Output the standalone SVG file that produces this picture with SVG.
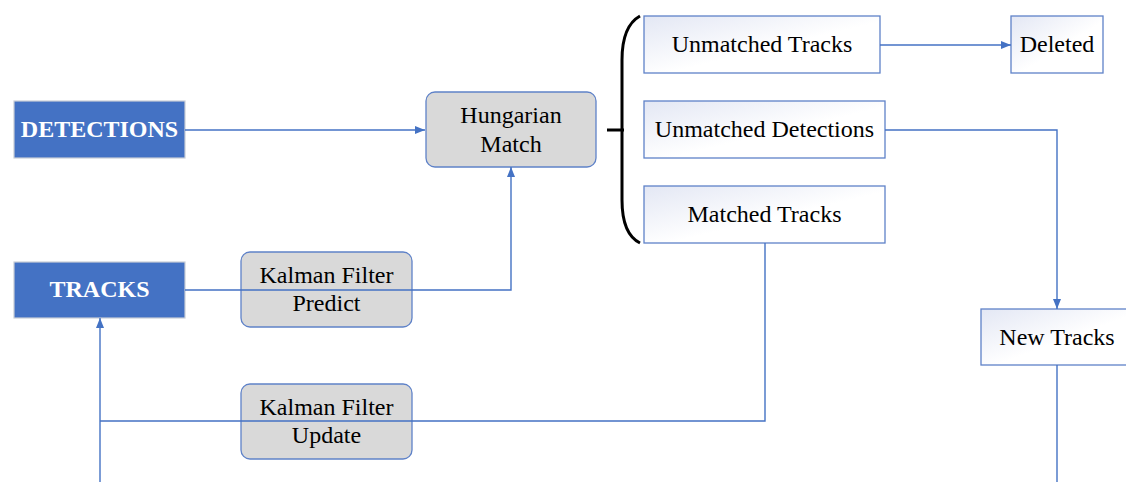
<svg xmlns="http://www.w3.org/2000/svg" width="1126" height="482" viewBox="0 0 1126 482">
<defs>
<linearGradient id="g" x1="0" y1="0" x2="1" y2="1">
<stop offset="0" stop-color="#e3e7f4"/>
<stop offset="0.55" stop-color="#ffffff"/>
<stop offset="1" stop-color="#ffffff"/>
</linearGradient>
<marker id="ah" viewBox="0 0 10 8" refX="10" refY="4" markerWidth="10" markerHeight="8" markerUnits="userSpaceOnUse" orient="auto">
<path d="M0,0 L10,4 L0,8 Z" fill="#4472C4"/>
</marker>
<style>
.blue{fill:#4472C4;stroke:#c9cdd6;stroke-width:1.2}
.grey{fill:#d9d9d9;stroke:#5f82c8;stroke-width:1.3}
.wb{fill:url(#g);stroke:#5f82c8;stroke-width:1.3}
.t{font-family:"Liberation Serif","Times New Roman",serif;font-size:24px;fill:#000;text-anchor:middle}
.tb{font-family:"Liberation Serif","Times New Roman",serif;font-size:24px;font-weight:bold;fill:#fff;text-anchor:middle}
.c{fill:none;stroke:#4472C4;stroke-width:1.4}
</style>
</defs>
<rect width="1126" height="482" fill="#fff"/>
<g id="detections">
<rect class="blue" x="14" y="101" width="171" height="57"/>
<text class="tb" x="99.5" y="137">DETECTIONS</text>
</g>
<g id="tracks">
<rect class="blue" x="14" y="262" width="171" height="56"/>
<text class="tb" x="99.5" y="297">TRACKS</text>
</g>
<g id="hungarian">
<rect class="grey" x="426" y="92" width="170" height="75" rx="9"/>
<text class="t" x="511" y="123">Hungarian</text>
<text class="t" x="511" y="152">Match</text>
</g>
<g id="kf-predict">
<rect class="grey" x="241" y="252" width="171" height="75" rx="9"/>
<text class="t" x="326.5" y="283">Kalman Filter</text>
<text class="t" x="326.5" y="311">Predict</text>
</g>
<g id="kf-update">
<rect class="grey" x="241" y="384" width="171" height="75" rx="9"/>
<text class="t" x="326.5" y="415">Kalman Filter</text>
<text class="t" x="326.5" y="443">Update</text>
</g>
<g id="unmatched-tracks">
<rect class="wb" x="644" y="16" width="236" height="57"/>
<text class="t" x="762" y="52">Unmatched Tracks</text>
</g>
<g id="deleted">
<rect class="wb" x="1011" y="16" width="92" height="57"/>
<text class="t" x="1057" y="52">Deleted</text>
</g>
<g id="unmatched-detections">
<rect class="wb" x="644" y="101" width="241" height="57"/>
<text class="t" x="764.5" y="137">Unmatched Detections</text>
</g>
<g id="matched-tracks">
<rect class="wb" x="644" y="186" width="241" height="57"/>
<text class="t" x="764.5" y="222">Matched Tracks</text>
</g>
<g id="new-tracks">
<rect class="wb" x="981" y="309" width="152" height="56"/>
<text class="t" x="1057" y="345">New Tracks</text>
</g>
<g id="connectors">
<path class="c" d="M185,130 H425" marker-end="url(#ah)"/>
<path class="c" d="M185,290 H511 V167" marker-end="url(#ah)"/>
<path class="c" d="M765,243 V421 H100"/>
<path class="c" d="M100,482 V318" marker-end="url(#ah)"/>
<path class="c" d="M880,45 H1011" marker-end="url(#ah)"/>
<path class="c" d="M885,130 H1057 V309" marker-end="url(#ah)"/>
<path class="c" d="M1057,365 V482"/>
<path d="M607,130 H624 M640,16 Q622,26 622,60 V200 Q622,234 640,243" fill="none" stroke="#000" stroke-width="3"/>
</g>
</svg>
